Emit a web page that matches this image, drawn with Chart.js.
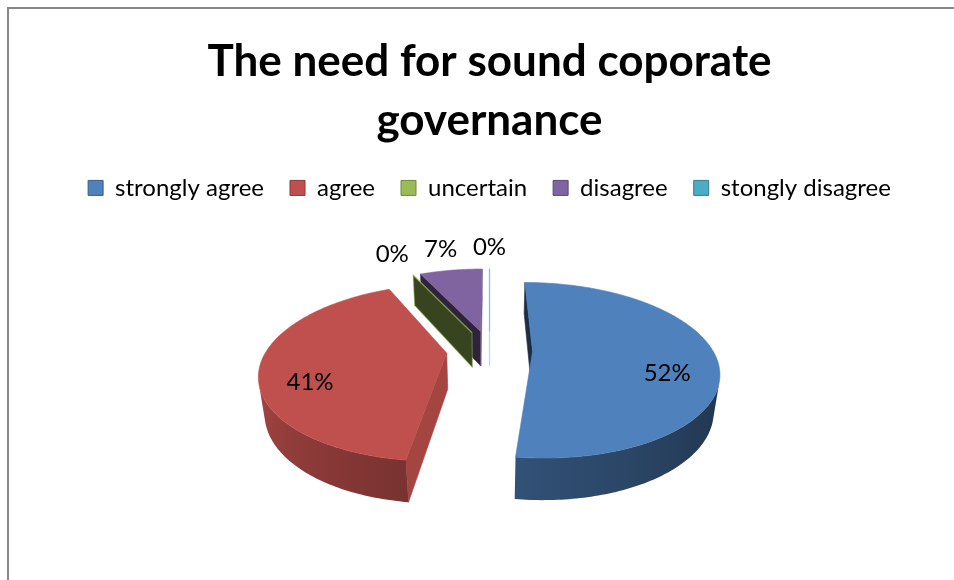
<!DOCTYPE html>
<html>
<head>
<meta charset="utf-8">
<title>The need for sound coporate governance</title>
<script src="https://cdn.jsdelivr.net/npm/chart.js@4.4.1/dist/chart.umd.min.js"></script>
<style>
  html, body { margin: 0; padding: 0; background: #fff; }
  #wrap { width: 954px; height: 580px; }
</style>
</head>
<body>
<div id="wrap"><canvas id="pie3d" width="954" height="580"></canvas></div>
<script>
const categories = ['strongly agree', 'agree', 'uncertain', 'disagree', 'stongly disagree'];
const shares = [52, 41, 0, 7, 0];
const sliceColors = ['#4f81bd', '#c0504d', '#9bbb59', '#8064a2', '#4bacc6'];
const edgeColors = ['#385d8a', '#8c3836', '#71893f', '#5c4776', '#357d91'];
const titleLines = ['The need for sound coporate', 'governance'];

// camera for the tilted pie
const TILT = 27.5 * Math.PI / 180; // elevation of the eye
const EYE = 4.1;                   // camera distance, in radii
const THICK = 0.23;                // slab height, in radii
const FONT = 'Lato';

function rgbOf(hex) {
  const n = parseInt(hex.slice(1), 16);
  return [(n >> 16) & 255, (n >> 8) & 255, n & 255];
}
function shade(hex, k) {
  const c = rgbOf(hex).map(v => Math.round(Math.min(255, v * k)));
  return `rgb(${c[0]},${c[1]},${c[2]})`;
}
function fade(hex, a) {
  const c = rgbOf(hex);
  return `rgba(${c[0]},${c[1]},${c[2]},${a})`;
}
// rim brightness: light on the left side, dark towards the right
function rimLight(a) {
  const ang = ((a % (2 * Math.PI)) + 2 * Math.PI) % (2 * Math.PI);
  const t = ang <= Math.PI ? ang / Math.PI : (ang > 1.5 * Math.PI ? 0 : 1);
  return 0.38 + 0.56 * Math.pow(t, 1.3);
}

// draws the pie as an exploded 3D slab, using the arcs chart.js laid out
const pie3d = {
  id: 'pie3d',
  beforeDraw(chart) {
    const ctx = chart.ctx;
    ctx.save();
    ctx.fillStyle = '#fff';
    ctx.fillRect(0, 0, chart.width, chart.height);
    ctx.strokeStyle = '#878787';
    ctx.lineWidth = 2;
    ctx.beginPath();
    ctx.moveTo(8, chart.height);
    ctx.lineTo(8, 8);
    ctx.lineTo(chart.width, 8);
    ctx.stroke();
    ctx.restore();
  },
  beforeDatasetsDraw(chart) {
    const ctx = chart.ctx;
    const meta = chart.getDatasetMeta(0);
    const arcs = meta.data;
    const values = chart.data.datasets[0].data;
    const colors = chart.data.datasets[0].backgroundColor;
    const R = arcs[0].outerRadius, cx = arcs[0].x, cy = arcs[0].y;
    const D = EYE * R, H = THICK * R;
    const cT = Math.cos(TILT), sT = Math.sin(TILT);
    const cam = { x: 0, z: -D * cT };
    const DEG = Math.PI / 180;

    const proj = (x, y, z) => {
      const v = y * cT + z * sT;
      const w = z * cT - y * sT;
      const f = D / (D + w);
      return [cx + x * f, cy - v * f];
    };

    const slices = arcs.map((arc, i) => {
      const a0 = arc.startAngle, a1 = arc.endAngle, mid = (a0 + a1) / 2;
      const e = arc.options.offset || 0;
      return { i, a0, a1, mid, ox: e * Math.cos(mid), oz: -e * Math.sin(mid) };
    });

    const poly = (pts) => {
      ctx.beginPath();
      ctx.moveTo(pts[0][0], pts[0][1]);
      for (let k = 1; k < pts.length; k++) ctx.lineTo(pts[k][0], pts[k][1]);
      ctx.closePath();
    };

    // back slices first
    const order = slices.slice().sort((p, q) => q.oz - p.oz);
    ctx.save();
    ctx.lineJoin = 'round';
    order.forEach(s => {
      const col = colors[s.i];
      const empty = s.a1 - s.a0 < 1e-6;
      const pt = (a, r, y) => proj(s.ox + r * Math.cos(a), y, s.oz - r * Math.sin(a));
      const faces = (nx, nz) => nx * (cam.x - s.ox) + nz * (cam.z - s.oz) > -0.01;

      // radial cut faces
      [[s.a0, Math.sin(s.a0), Math.cos(s.a0)], [s.a1, -Math.sin(s.a1), -Math.cos(s.a1)]].forEach(([a, nx, nz], k) => {
        if (empty && k === 1) return;
        if (!faces(nx, nz)) return;
        poly([pt(a, 0, 0), pt(a, R, 0), pt(a, R, -H), pt(a, 0, -H)]);
        ctx.fillStyle = shade(col, nx > 0.05 ? 0.86 : 0.36);
        ctx.fill();
        ctx.strokeStyle = empty ? fade(col, 0.45) : ctx.fillStyle;
        ctx.lineWidth = empty ? 1.2 : 0.6;
        ctx.stroke();
      });

      // outer rim: the part turned to the eye, one path with a side-to-side gradient
      if (!empty) {
        const steps = Math.max(2, Math.ceil((s.a1 - s.a0) / DEG));
        const seen = [];
        for (let k = 0; k <= steps; k++) {
          const b = s.a0 + (s.a1 - s.a0) * k / steps;
          const px = s.ox + R * Math.cos(b), pz = s.oz - R * Math.sin(b);
          if (Math.cos(b) * (cam.x - px) - Math.sin(b) * (cam.z - pz) > 0) seen.push(b);
        }
        if (seen.length > 1) {
          const top = seen.map(b => pt(b, R, 0));
          const bot = seen.map(b => pt(b, R, -H));
          poly(top.concat(bot.reverse()));
          const xs = top.map(p => p[0]);
          const x0 = Math.min(...xs), x1 = Math.max(...xs);
          const grad = ctx.createLinearGradient(x0, 0, x1, 0);
          seen.map((b, k) => [(xs[k] - x0) / Math.max(1, x1 - x0), b])
            .sort((p, q) => p[0] - q[0])
            .forEach(([o, b]) => grad.addColorStop(Math.min(1, Math.max(0, o)), shade(col, rimLight(b))));
          ctx.fillStyle = grad;
          ctx.fill();
        }
      }

      // top face
      if (empty) {
        ctx.beginPath();
        const p0 = pt(s.a0, 0, 0), p1 = pt(s.a0, R, 0);
        ctx.moveTo(p0[0], p0[1]);
        ctx.lineTo(p1[0], p1[1]);
        ctx.strokeStyle = fade(col, 0.5);
        ctx.lineWidth = 1.2;
        ctx.stroke();
      } else {
        const pts = [pt(s.a0, 0, 0)];
        const steps = Math.max(2, Math.ceil((s.a1 - s.a0) / DEG));
        for (let k = 0; k <= steps; k++) pts.push(pt(s.a0 + (s.a1 - s.a0) * k / steps, R, 0));
        poly(pts);
        ctx.fillStyle = col;
        ctx.fill();
        ctx.strokeStyle = col;
        ctx.lineWidth = 0.6;
        ctx.stroke();
      }
    });

    // percentage labels: big slices inside at mid depth, small ones outside
    ctx.fillStyle = '#000';
    ctx.font = `24px ${FONT}`;
    ctx.textAlign = 'center';
    ctx.textBaseline = 'middle';
    slices.forEach(s => {
      const v = values[s.i];
      const inside = v >= 10;
      const r = inside ? 0.75 * R : 1.45 * R;
      const p = proj(s.ox + r * Math.cos(s.mid), inside ? -H / 2 : 0, s.oz - r * Math.sin(s.mid));
      ctx.fillText(`${v}%`, p[0], p[1]);
    });
    ctx.restore();
    return false;
  }
};

function drawChart() {
  new Chart(document.getElementById('pie3d'), {
    type: 'pie',
    data: {
      labels: categories,
      datasets: [{
        data: shares,
        backgroundColor: sliceColors,
        borderColor: edgeColors,
        borderWidth: 1,
        offset: 43,
        radius: 180
      }]
    },
    options: {
      responsive: false,
      animation: false,
      devicePixelRatio: 1,
      layout: { padding: { left: 25, right: 0, top: 0, bottom: 90 } },
      plugins: {
        title: {
          display: true,
          text: titleLines,
          color: '#000',
          font: { family: FONT, size: 44, weight: 'bold', lineHeight: 1.34 },
          padding: { top: 32, bottom: 0 }
        },
        legend: {
          position: 'top',
          labels: {
            color: '#000',
            font: { family: FONT, size: 24 },
            boxWidth: 15,
            boxHeight: 15,
            padding: 26
          }
        },
        tooltip: { enabled: false }
      }
    },
    plugins: [pie3d]
  });
}

Promise.all([
  document.fonts.load(`bold 44px ${FONT}`),
  document.fonts.load(`24px ${FONT}`)
]).then(drawChart, drawChart);
</script>
</body>
</html>
